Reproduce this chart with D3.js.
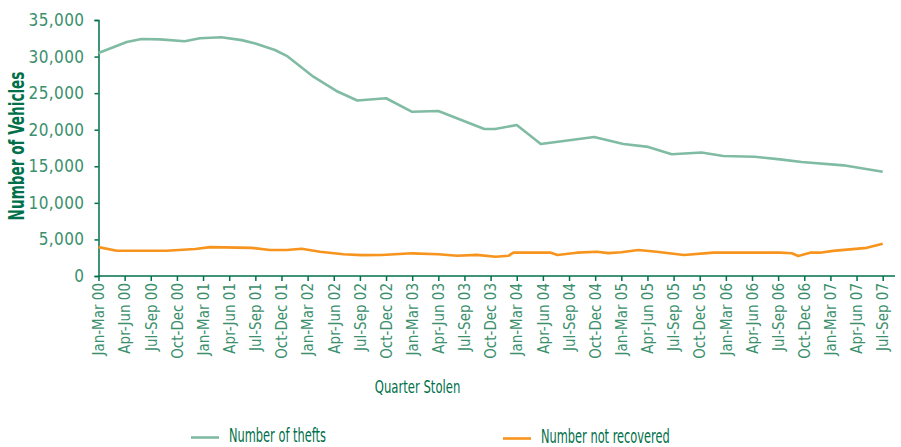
<!DOCTYPE html>
<html>
<head>
<meta charset="utf-8">
<script src="https://cdn.jsdelivr.net/npm/d3@7"></script>
<style>
  body { margin: 0; background: #fff; }
  svg text { font-family: "Liberation Sans Narrow", "DejaVu Sans Condensed", sans-serif; }
</style>
</head>
<body>
<svg id="chart" width="901" height="447"></svg>
<script>
let quarters = ["Jan-Mar 00", "Apr-Jun 00", "Jul-Sep 00", "Oct-Dec 00",
    "Jan-Mar 01", "Apr-Jun 01", "Jul-Sep 01", "Oct-Dec 01",
    "Jan-Mar 02", "Apr-Jun 02", "Jul-Sep 02", "Oct-Dec 02",
    "Jan-Mar 03", "Apr-Jun 03", "Jul-Sep 03", "Oct-Dec 03",
    "Jan-Mar 04", "Apr-Jun 04", "Jul-Sep 04", "Oct-Dec 04",
    "Jan-Mar 05", "Apr-Jun 05", "Jul-Sep 05", "Oct-Dec 05",
    "Jan-Mar 06", "Apr-Jun 06", "Jul-Sep 06", "Oct-Dec 06",
    "Jan-Mar 07", "Apr-Jun 07", "Jul-Sep 07"]

// x = position in quarters from Jan-Mar 00 (the line has points between the labels)
let theftsAt = [0, 1.08, 1.65, 2.35, 3.3, 3.88, 4.7, 5.48, 6, 6.75, 7.2, 8.22, 9.1, 9.9, 11,
    12, 13, 14.76, 15.17, 16, 16.92, 18.96, 20.08, 21.03, 21.93, 23.07, 23.9, 25.1, 26.07, 26.9, 28.5, 30]
let thefts = [30500, 32000, 32400, 32350, 32100, 32500, 32650, 32250, 31800, 30900, 30100, 27250, 25300, 24000, 24300,
    22450, 22550, 20100, 20100, 20650, 18050, 19000, 18050, 17650, 16650, 16880, 16400, 16300, 15950, 15580, 15130, 14250]

let lostAt = [0, 0.7, 2.6, 3.7, 4.27, 5.86, 6.56, 7.2, 7.77, 8.47, 9.37, 10.07, 10.83, 12, 13, 13.73, 14.47,
    15.19, 15.68, 15.87, 17.3, 17.56, 18.3, 19.07, 19.5, 20, 20.65, 21.35, 22.4, 23.52, 26.07, 26.52, 26.77,
    27.22, 27.6, 28.1, 29.39, 30]
let lost = [3950, 3460, 3460, 3690, 3950, 3850, 3550, 3550, 3720, 3320, 2980, 2850, 2880, 3100, 2970, 2760, 2890,
    2640, 2760, 3190, 3190, 2880, 3190, 3320, 3130, 3240, 3550, 3320, 2870, 3190, 3190, 3100, 2730,
    3190, 3190, 3430, 3850, 4420]

let yTicks = [0, 5000, 10000, 15000, 20000, 25000, 30000, 35000]

let green = '#00704a'
let lightGreen = '#3b8f6c'
let theftColor = '#80bba3'
let lostColor = '#f7941d'

let svg = d3.select('#chart')
let plotLeft = 98.5, plotTop = 20, plotBottom = 276, plotRight = 882.7

let x = d3.scaleLinear().domain([0, quarters.length - 1]).range([plotLeft, plotRight])
let y = d3.scaleLinear().domain([0, 35000]).range([plotBottom, plotTop])

// y axis
let yAxis = svg.append('g')
    .attr('transform', `translate(${plotLeft},0)`)
    .call(d3.axisLeft(y).tickValues(yTicks).tickSize(4).tickPadding(10).tickFormat(d3.format(',')))
yAxis.select('.domain').attr('stroke', green).attr('stroke-width', 1.5)
yAxis.selectAll('.tick line').attr('stroke', green).attr('stroke-width', 1.5)
yAxis.selectAll('.tick text')
    .attr('fill', lightGreen)
    .style('font-size', '17px')
    .style('letter-spacing', '0.4px')

// x axis
let xAxis = svg.append('g')
    .attr('transform', `translate(0,${plotBottom})`)
    .call(d3.axisBottom(x).tickValues(d3.range(quarters.length)).tickSize(5).tickFormat(i => quarters[i]))
xAxis.select('.domain').remove()
xAxis.append('line')
    .attr('x1', plotLeft).attr('x2', x(30.47))
    .attr('stroke', green).attr('stroke-width', 1.5)
xAxis.selectAll('.tick line').attr('stroke', green).attr('stroke-width', 1.5)
xAxis.selectAll('.tick text')
    .attr('fill', lightGreen)
    .style('font-size', '15px')
    .attr('text-anchor', 'end')
    .attr('dy', '0.35em')
    .attr('transform', 'translate(0,7) rotate(-90)')
    .attr('x', 0).attr('y', 0)

// lines
let line = d3.line().x(d => x(d[0])).y(d => y(d[1]))

svg.append('path')
    .datum(d3.zip(theftsAt, thefts))
    .attr('fill', 'none')
    .attr('stroke', theftColor)
    .attr('stroke-width', 2.6)
    .attr('stroke-linejoin', 'round')
    .attr('d', line)

svg.append('path')
    .datum(d3.zip(lostAt, lost))
    .attr('fill', 'none')
    .attr('stroke', lostColor)
    .attr('stroke-width', 2.6)
    .attr('stroke-linejoin', 'round')
    .attr('d', line)

// titles (squeezed sideways to look like the condensed face of the original)
svg.append('text')
    .attr('transform', `translate(24,146) rotate(-90) scale(0.72,1)`)
    .attr('text-anchor', 'middle')
    .attr('fill', green)
    .style('font-size', '21px')
    .style('font-weight', 'bold')
    .text('Number of Vehicles')

svg.append('text')
    .attr('transform', 'translate(417.5,393) scale(0.72,1)')
    .attr('text-anchor', 'middle')
    .attr('fill', green)
    .style('font-size', '18px')
    .text('Quarter Stolen')

// legend
let legend = [
    { name: 'Number of thefts', color: theftColor, x: 191, y: 437.5 },
    { name: 'Number not recovered', color: lostColor, x: 503, y: 438.5 }
]
let lg = svg.selectAll('.legend').data(legend).join('g')
    .attr('class', 'legend')
    .attr('transform', d => `translate(${d.x},${d.y})`)
lg.append('line')
    .attr('x1', 0).attr('x2', 28)
    .attr('stroke', d => d.color).attr('stroke-width', 2.6)
lg.append('text')
    .attr('transform', 'translate(38,4.5) scale(0.65,1)')
    .attr('fill', green)
    .style('font-size', '19.5px')
    .text(d => d.name)
</script>
</body>
</html>
